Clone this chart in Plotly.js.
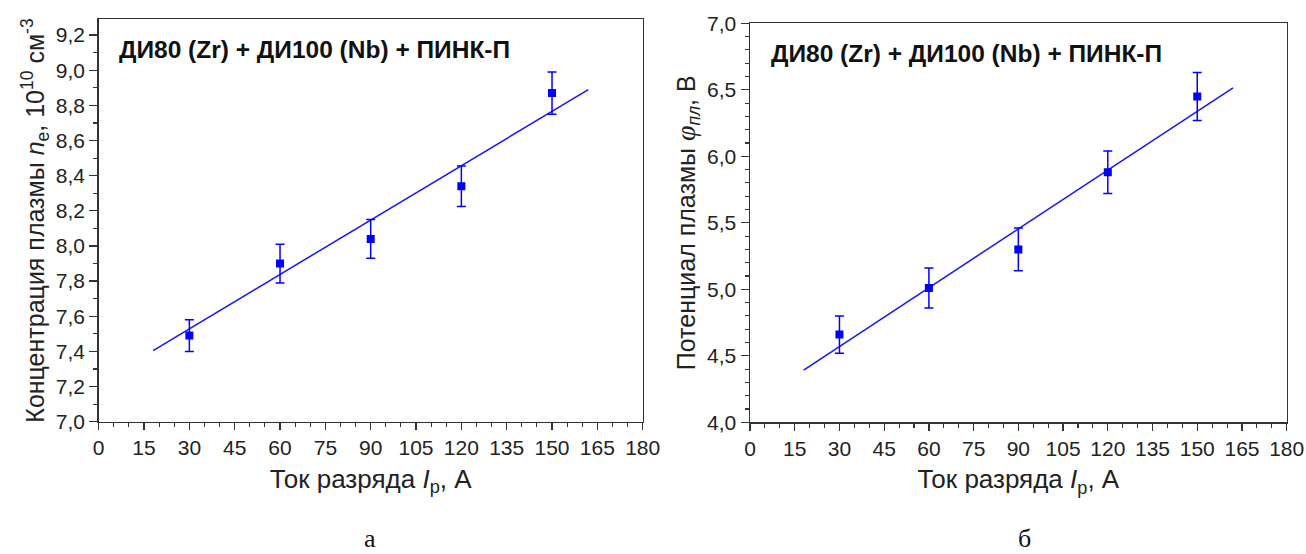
<!DOCTYPE html>
<html>
<head>
<meta charset="utf-8">
<script src="https://cdn.plot.ly/plotly-3.0.1.min.js"></script>
<style>html,body{margin:0;padding:0;background:#fff;}#chart{width:1306px;height:554px;}</style>
</head>
<body>
<div id="chart"></div>
<script>
// Discharge current, A
const current = [30, 60, 90, 120, 150];
// (a) plasma concentration n_e, 10^10 cm^-3
const density = [7.49, 7.90, 8.04, 8.34, 8.87];
const densityErr = [0.09, 0.11, 0.11, 0.115, 0.12];
// (b) plasma potential, V
const potential = [4.66, 5.01, 5.30, 5.88, 6.45];
const potentialErr = [0.14, 0.15, 0.16, 0.16, 0.18];
// linear fit lines (end points)
const fitX = [18, 162];
const densityFit = [7.405, 8.89];
const potentialFit = [4.393, 6.515];

const blue = '#0000ff';
const lineBlue = '#1414ff';
const axisColor = '#333333';
const font = "'Liberation Sans', Arial, sans-serif";
const serif = "'Liberation Serif', 'Times New Roman', serif";

const traces = [
  {x: fitX, y: densityFit, mode: 'lines', line: {color: lineBlue, width: 1.5}, xaxis: 'x', yaxis: 'y', hoverinfo: 'skip'},
  {x: current, y: density, mode: 'markers', marker: {symbol: 'square', size: 8, color: blue},
   error_y: {type: 'data', array: densityErr, visible: true, color: blue, thickness: 1.5, width: 4.5}, xaxis: 'x', yaxis: 'y'},
  {x: fitX, y: potentialFit, mode: 'lines', line: {color: lineBlue, width: 1.5}, xaxis: 'x2', yaxis: 'y2', hoverinfo: 'skip'},
  {x: current, y: potential, mode: 'markers', marker: {symbol: 'square', size: 8, color: blue},
   error_y: {type: 'data', array: potentialErr, visible: true, color: blue, thickness: 1.5, width: 4.5}, xaxis: 'x2', yaxis: 'y2'}
];

function xAxis(domain, anchor) {
  return {
    domain: domain, anchor: anchor, range: [0, 180], dtick: 15, tick0: 0,
    showline: true, mirror: true, linecolor: axisColor, linewidth: 1.5,
    ticks: 'outside', ticklen: 7, tickwidth: 1.3, tickcolor: axisColor,
    minor: {dtick: 5, ticks: 'outside', ticklen: 4, tickwidth: 1.1, tickcolor: axisColor},
    showgrid: false, zeroline: false,
    tickfont: {family: font, size: 21, color: '#222'},
    title: {text: 'Ток разряда <i>I</i><sub>p</sub>, А', font: {family: font, size: 26, color: '#222'}, standoff: 11},
    automargin: false
  };
}
function yAxis(domain, anchor, range, dtick, minor, title, size, standoff) {
  return {
    domain: domain, anchor: anchor, range: range, dtick: dtick, tick0: range[0],
    tickformat: '.1f',
    showline: true, mirror: true, linecolor: axisColor, linewidth: 1.5,
    ticks: 'outside', ticklen: 8, tickwidth: 1.3, tickcolor: axisColor,
    minor: {dtick: minor, ticks: 'outside', ticklen: 4, tickwidth: 1.1, tickcolor: axisColor},
    showgrid: false, zeroline: false,
    tickfont: {family: font, size: 21, color: '#222'},
    title: {text: title, font: {family: font, size: size, color: '#222'}, standoff: standoff},
    automargin: false
  };
}

const layout = {
  width: 1306, height: 554,
  margin: {l: 0, r: 0, t: 0, b: 0},
  paper_bgcolor: '#fff', plot_bgcolor: '#fff',
  showlegend: false,
  separators: ', ',
  xaxis: xAxis([98.7/1306, 642.7/1306], 'y'),
  yaxis: yAxis([(554-421.7)/554, (554-19.3)/554], 'x', [7.0, 9.29], 0.2, 0.1,
    'Концентрация плазмы <i>n</i><sub>e</sub>, 10<sup>10</sup> см<sup>-3</sup>', 25, 4),
  xaxis2: xAxis([750/1306, 1286.7/1306], 'y2'),
  yaxis2: yAxis([(554-422.3)/554, (554-23.3)/554], 'x2', [4.0, 7.0], 0.5, 0.1,
    'Потенциал плазмы <span style="font-family:\'Liberation Serif\', serif;font-size:28px"><i>φ</i></span><sub><i>пл</i></sub>, В', 25, 4),
  annotations: [
    {xref: 'paper', yref: 'paper', x: 117/1306, y: 1 - 49/554, xanchor: 'left', yanchor: 'middle', showarrow: false,
     text: '<b>ДИ80 (Zr) + ДИ100 (Nb) + ПИНК-П</b>', font: {family: font, size: 24.5, color: '#111'}},
    {xref: 'paper', yref: 'paper', x: 769/1306, y: 1 - 53/554, xanchor: 'left', yanchor: 'middle', showarrow: false,
     text: '<b>ДИ80 (Zr) + ДИ100 (Nb) + ПИНК-П</b>', font: {family: font, size: 24.5, color: '#111'}},
    {xref: 'paper', yref: 'paper', x: 370/1306, y: 1 - 538/554, xanchor: 'center', yanchor: 'middle', showarrow: false,
     text: 'а', font: {family: serif, size: 26, color: '#111'}},
    {xref: 'paper', yref: 'paper', x: 1024/1306, y: 1 - 538/554, xanchor: 'center', yanchor: 'middle', showarrow: false,
     text: 'б', font: {family: serif, size: 26, color: '#111'}}
  ]
};

Plotly.newPlot('chart', traces, layout, {staticPlot: true, displayModeBar: false});
</script>
</body>
</html>
